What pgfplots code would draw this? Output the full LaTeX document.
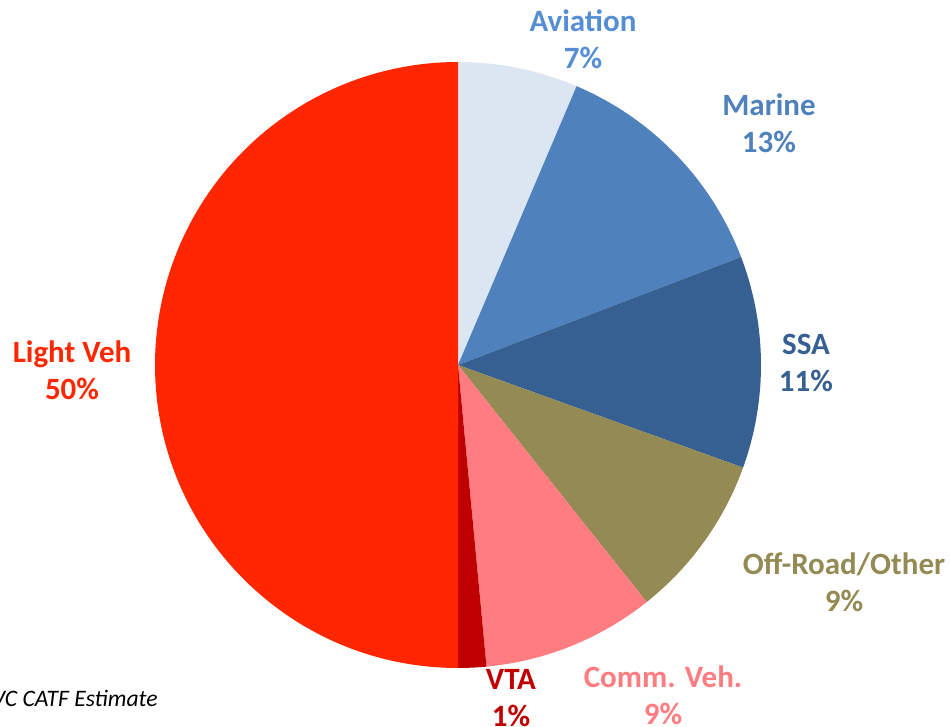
\documentclass[border=0pt]{standalone}
\usepackage{pgfplots}
\pgfplotsset{compat=1.18}
\usepackage{fontspec}
\setmainfont{Carlito}
\definecolor{cAv}{HTML}{DCE6F2}
\definecolor{cMa}{HTML}{4F81BD}
\definecolor{cSSA}{HTML}{376092}
\definecolor{cOff}{HTML}{948A54}
\definecolor{cComm}{HTML}{FF7C80}
\definecolor{cVTA}{HTML}{C00000}
\definecolor{cLV}{HTML}{FF2600}
\definecolor{tAv}{HTML}{558ED5}
\begin{document}
\begin{tikzpicture}
\begin{axis}[hide axis, x=151.5pt, y=151.5pt,
  xmin=-1.5116, xmax=1.6238, ymin=-1.1947, ymax=1.2046, clip=false]
\coordinate (bl) at (axis cs:-1.5116,-1.1947);
\coordinate (tr) at (axis cs:1.6238,1.2046);
\xdef\acc{90}
\foreach \v/\c in {6.4/cAv, 12.8/cMa, 11.3/cSSA, 8.8/cOff, 9.2/cComm, 1.5/cVTA, 50/cLV}{
  \pgfmathsetmacro\start{\acc}
  \pgfmathsetmacro\stop{\acc-3.6*\v}
  \edef\tmp{\noexpand\fill[\c] (axis cs:0,0) -- (axis cs:{cos(\start)},{sin(\start)}) arc[start angle=\start, end angle=\stop, radius=151.5pt] -- cycle;}
  \tmp
  \xdef\acc{\stop}
}
\tikzset{lab/.style={font=\bfseries\fontsize{15.5}{18.5}\selectfont, align=center}}
\node[lab, text=tAv] at (axis cs:0.4125,1.0743) {Aviation\\7\%};
\node[lab, text=cMa] at (axis cs:1.0264,0.797) {Marine\\13\%};
\node[lab, text=cSSA] at (axis cs:1.1485,0.0083) {SSA\\11\%};
\node[lab, text=cOff] at (axis cs:1.274,-0.716) {Off-Road/Other\\9\%};
\node[lab, text=cComm] at (axis cs:0.6766,-1.0908) {Comm. Veh.\\9\%};
\node[lab, text=cVTA] at (axis cs:0.1749,-1.099) {VTA\\1\%};
\node[lab, text=cLV] at (axis cs:-1.2739,-0.0182) {Light Veh\\50\%};
\node[anchor=east, font=\itshape\fontsize{11.8}{14}\selectfont, inner sep=0pt] at (axis cs:-0.99,-1.1) {VC CATF Estimate};
\end{axis}
\pgfresetboundingbox
\path (bl) rectangle (tr);
\end{tikzpicture}
\end{document}
